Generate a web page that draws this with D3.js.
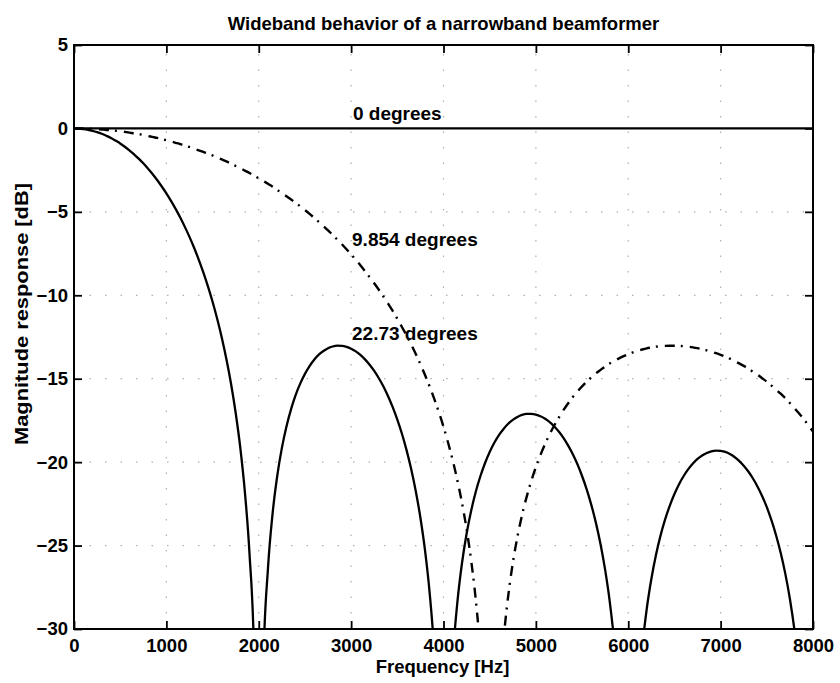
<!DOCTYPE html>
<html><head><meta charset="utf-8">
<script src="https://cdn.jsdelivr.net/npm/d3@7"></script>
<style>
body{margin:0;background:#fff;}
svg{display:block;}
text{font-family:"Liberation Sans",Arial,Helvetica,sans-serif;font-weight:bold;fill:#000;}
</style>
</head><body>
<svg id="chart" width="840" height="683"></svg>
<script>
// ---------- data ----------
const title = "Wideband behavior of a narrowband beamformer";
const xLabel = "Frequency [Hz]";
const yLabel = "Magnitude response [dB]";

const xTicks = [0,1000,2000,3000,4000,5000,6000,7000,8000];
const yTicks = [5,0,-5,-10,-15,-20,-25,-30];

// frequency samples (Hz)
const freq = [
0,50,100,150,200,250,300,350,400,450,
500,550,600,650,700,750,800,850,900,950,
1000,1050,1100,1150,1200,1250,1300,1350,1400,1450,
1500,1550,1600,1650,1700,1750,1800,1850,1900,1950,
2000,2050,2100,2150,2200,2250,2300,2350,2400,2450,
2500,2550,2600,2650,2700,2750,2800,2850,2900,2950,
3000,3050,3100,3150,3200,3250,3300,3350,3400,3450,
3500,3550,3600,3650,3700,3750,3800,3850,3900,3950,
4000,4050,4100,4150,4200,4250,4300,4350,4400,4450,
4500,4550,4600,4650,4700,4750,4800,4850,4900,4950,
5000,5050,5100,5150,5200,5250,5300,5350,5400,5450,
5500,5550,5600,5650,5700,5750,5800,5850,5900,5950,
6000,6050,6100,6150,6200,6250,6300,6350,6400,6450,
6500,6550,6600,6650,6700,6750,6800,6850,6900,6950,
7000,7050,7100,7150,7200,7250,7300,7350,7400,7450,
7500,7550,7600,7650,7700,7750,7800,7850,7900,7950,
8000];

// 0 degrees (dB)
const freq0 = [0, 8000];
const resp0 = [0, 0];

// 9.854 degrees (dB), dash-dot
const resp9854 = [
0.00,-0.00,-0.01,-0.02,-0.03,-0.04,-0.06,-0.09,-0.11,-0.14,
-0.17,-0.21,-0.25,-0.30,-0.34,-0.39,-0.45,-0.51,-0.57,-0.64,
-0.71,-0.78,-0.86,-0.94,-1.03,-1.11,-1.21,-1.31,-1.41,-1.51,
-1.62,-1.74,-1.86,-1.98,-2.11,-2.25,-2.38,-2.53,-2.67,-2.83,
-2.99,-3.15,-3.32,-3.49,-3.68,-3.86,-4.06,-4.26,-4.46,-4.67,
-4.89,-5.12,-5.36,-5.60,-5.85,-6.11,-6.38,-6.66,-6.94,-7.24,
-7.55,-7.87,-8.20,-8.55,-8.91,-9.28,-9.67,-10.08,-10.50,-10.94,
-11.41,-11.90,-12.41,-12.95,-13.52,-14.13,-14.78,-15.47,-16.21,-17.01,
-17.88,-18.84,-19.90,-21.09,-22.44,-24.01,-25.91,-28.28,-31.48,-36.46,
-48.86,-42.41,-34.65,-30.69,-28.04,-26.06,-24.48,-23.18,-22.08,-21.13,
-20.30,-19.57,-18.91,-18.32,-17.79,-17.31,-16.87,-16.47,-16.10,-15.77,
-15.46,-15.18,-14.92,-14.68,-14.47,-14.27,-14.09,-13.93,-13.78,-13.65,
-13.53,-13.42,-13.33,-13.25,-13.18,-13.13,-13.08,-13.05,-13.03,-13.02,
-13.02,-13.03,-13.05,-13.08,-13.12,-13.17,-13.23,-13.30,-13.38,-13.47,
-13.57,-13.68,-13.80,-13.94,-14.08,-14.23,-14.40,-14.58,-14.76,-14.97,
-15.18,-15.41,-15.65,-15.90,-16.17,-16.46,-16.77,-17.09,-17.43,-17.79,
-18.17];

// 22.73 degrees (dB), solid
const resp2273 = [
0.00,-0.01,-0.04,-0.08,-0.14,-0.22,-0.32,-0.44,-0.57,-0.73,
-0.90,-1.10,-1.32,-1.55,-1.81,-2.09,-2.40,-2.73,-3.09,-3.48,
-3.89,-4.34,-4.82,-5.34,-5.90,-6.50,-7.15,-7.86,-8.63,-9.47,
-10.39,-11.41,-12.54,-13.83,-15.30,-17.04,-19.13,-21.80,-25.50,-31.72,
-60.00,-32.14,-26.35,-23.07,-20.83,-19.16,-17.86,-16.82,-15.97,-15.28,
-14.71,-14.24,-13.86,-13.56,-13.34,-13.17,-13.07,-13.02,-13.03,-13.09,
-13.20,-13.36,-13.57,-13.84,-14.16,-14.53,-14.97,-15.47,-16.05,-16.70,
-17.45,-18.30,-19.28,-20.41,-21.74,-23.33,-25.29,-27.83,-31.40,-37.50,
-60.00,-37.69,-31.79,-28.41,-26.06,-24.29,-22.90,-21.76,-20.83,-20.05,
-19.39,-18.84,-18.38,-18.01,-17.70,-17.47,-17.29,-17.17,-17.11,-17.11,
-17.15,-17.25,-17.40,-17.60,-17.86,-18.18,-18.56,-19.01,-19.53,-20.13,
-20.83,-21.63,-22.56,-23.64,-24.92,-26.46,-28.37,-30.87,-34.40,-40.45,
-60.00,-40.56,-34.61,-31.19,-28.80,-27.00,-25.56,-24.39,-23.42,-22.60,
-21.91,-21.32,-20.83,-20.42,-20.08,-19.81,-19.60,-19.45,-19.35,-19.31,
-19.33,-19.39,-19.51,-19.69,-19.92,-20.21,-20.56,-20.98,-21.47,-22.04,
-22.70,-23.48,-24.38,-25.43,-26.68,-28.20,-30.09,-32.55,-36.06,-42.08,
-60.00];

// annotations: [text, frequency, dB]
const annoText = ["0 degrees", "9.854 degrees", "22.73 degrees"];
const annoFreq = [3020, 3010, 3010];
const annoDb   = [0.5, -7.05, -12.65];

// ---------- drawing ----------
const svg = d3.select("#chart");
const L = 74, R = 813, T = 45, B = 629;
const x = d3.scaleLinear().domain([0, 8000]).range([L, R]);
const y = d3.scaleLinear().domain([-30, 5]).range([B, T]);

const fontSize = 18.5;

// grid (dotted)
const grid = svg.append("g").attr("stroke", "#b0b0b0").attr("stroke-width", 1.2)
  .attr("stroke-dasharray", "1.5,14");
grid.selectAll("line.gx").data(xTicks.slice(1, -1)).join("line")
  .attr("x1", d => x(d)).attr("x2", d => x(d)).attr("y1", B).attr("y2", T);
grid.selectAll("line.gy").data(yTicks.slice(1, -1)).join("line")
  .attr("y1", d => y(d)).attr("y2", d => y(d)).attr("x1", L).attr("x2", R);

// clip
svg.append("defs").append("clipPath").attr("id", "clip")
  .append("rect").attr("x", L).attr("y", T).attr("width", R - L).attr("height", B - T);

const line = d3.line().x(d => x(d[0])).y(d => y(d[1])).curve(d3.curveMonotoneX);
const plot = svg.append("g").attr("clip-path", "url(#clip)");

plot.append("path").datum(freq0.map((f, i) => [f, resp0[i]]))
  .attr("d", line).attr("fill", "none").attr("stroke", "#000").attr("stroke-width", 2.2);
plot.append("path").datum(freq.map((f, i) => [f, resp9854[i]]))
  .attr("d", line).attr("fill", "none").attr("stroke", "#000").attr("stroke-width", 2.4)
  .attr("stroke-dasharray", "10,6,2,7");
plot.append("path").datum(freq.map((f, i) => [f, resp2273[i]]))
  .attr("d", line).attr("fill", "none").attr("stroke", "#000").attr("stroke-width", 2.3);

// axes
function styleAxis(g){
  g.select(".domain").remove();
  g.selectAll(".tick line").attr("stroke", "#000").attr("stroke-width", 1.8);
  g.selectAll(".tick text").style("font-size", fontSize + "px").attr("font-weight", "bold");
}
svg.append("g").attr("transform", `translate(0,${B})`)
  .call(d3.axisBottom(x).tickValues(xTicks).tickFormat(d3.format("d")).tickSizeInner(-8).tickSizeOuter(0).tickPadding(10))
  .call(styleAxis);
svg.append("g").attr("transform", `translate(0,${T})`)
  .call(d3.axisTop(x).tickValues(xTicks).tickFormat("").tickSizeInner(-8).tickSizeOuter(0))
  .call(styleAxis);
svg.append("g").attr("transform", `translate(${L},0)`)
  .call(d3.axisLeft(y).tickValues(yTicks).tickFormat(d3.format("d")).tickSizeInner(-8).tickSizeOuter(0).tickPadding(6))
  .call(styleAxis);
svg.append("g").attr("transform", `translate(${R},0)`)
  .call(d3.axisRight(y).tickValues(yTicks).tickFormat("").tickSizeInner(-8).tickSizeOuter(0))
  .call(styleAxis);

// box
svg.append("rect").attr("x", L).attr("y", T).attr("width", R - L).attr("height", B - T)
  .attr("fill", "none").attr("stroke", "#000").attr("stroke-width", 2);

// annotations
svg.append("g").selectAll("text").data(annoText).join("text")
  .attr("x", (d, i) => x(annoFreq[i]))
  .attr("y", (d, i) => y(annoDb[i]))
  .style("font-size", "19px")
  .text(d => d);

// titles
svg.append("text").attr("x", (L + R) / 2).attr("y", 30).attr("text-anchor", "middle")
  .style("font-size", fontSize + "px").text(title);
svg.append("text").attr("x", (L + R) / 2 - 1).attr("y", 673).attr("text-anchor", "middle")
  .style("font-size", fontSize + "px").text(xLabel);
svg.append("text").attr("transform", "translate(28,314) rotate(-90)").attr("text-anchor", "middle")
  .attr("textLength", 262).attr("lengthAdjust", "spacingAndGlyphs")
  .style("font-size", fontSize + "px").text(yLabel);
</script>
</body></html>
